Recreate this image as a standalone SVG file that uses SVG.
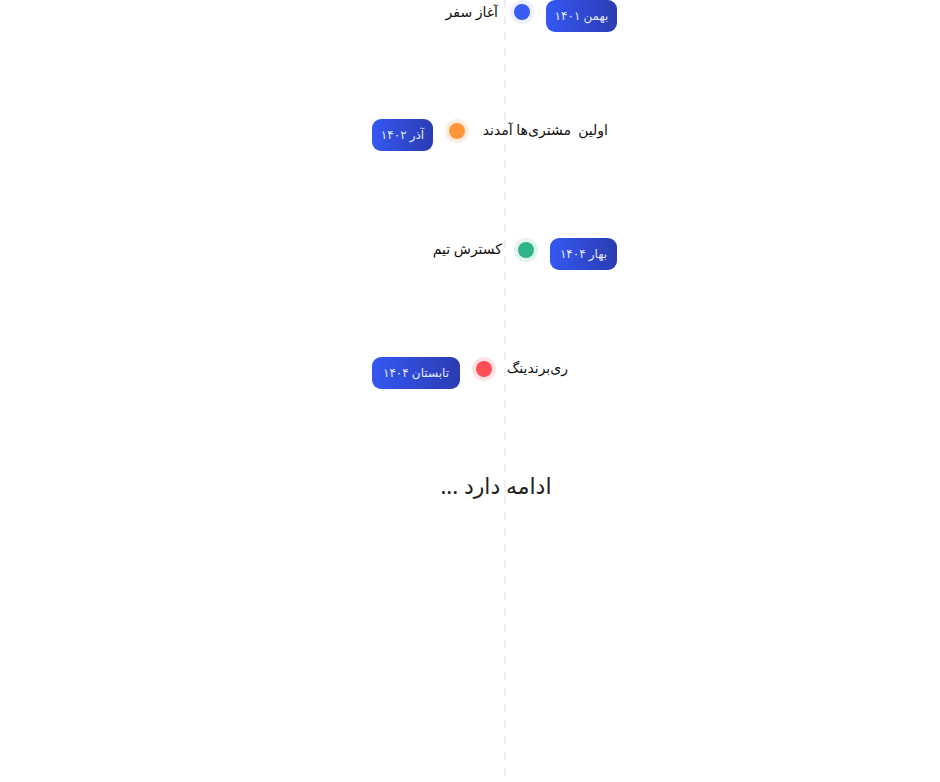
<svg xmlns="http://www.w3.org/2000/svg" width="940" height="782" viewBox="0 0 940 782">
<style>
.lbl{font-family:"Noto Sans","DejaVu Sans",sans-serif;font-size:14px;fill:#111;direction:rtl;white-space:pre}
.bt{font-family:"Noto Sans","DejaVu Sans",sans-serif;font-size:12px;fill:#e6eaff;direction:rtl;text-anchor:middle}
.more{font-family:"Noto Sans","DejaVu Sans",sans-serif;font-size:22px;fill:#222;direction:rtl;text-anchor:middle}
.badge{fill:url(#g)}
</style>
<defs>
<linearGradient id="g" x1="0" y1="0" x2="1" y2="0">
<stop offset="0" stop-color="#3558f2"/>
<stop offset="1" stop-color="#2a3cb2"/>
</linearGradient>
</defs>
<rect width="940" height="782" fill="#fff"/>
<g id="connectors">
<line x1="505" y1="0" x2="505" y2="782" stroke="#efefef" stroke-width="2" stroke-dasharray="8 8"/>
</g>
<g id="n1">
<rect class="badge" x="546" y="0" width="71" height="32" rx="9"/>
<text class="bt" x="581.5" y="20">بهمن ۱۴۰۱</text>
<circle cx="522" cy="12" r="12" fill="#eef0fe"/>
<circle cx="522" cy="12" r="8" fill="#3b5bf5"/>
<text class="lbl" x="498" y="17">آغاز سفر</text>
</g>
<g id="n2">
<rect class="badge" x="372" y="119" width="61" height="32" rx="9"/>
<text class="bt" x="402.5" y="139">آذر ۱۴۰۲</text>
<circle cx="457" cy="131" r="12" fill="#fdede0"/>
<circle cx="457" cy="131" r="8" fill="#ff9538"/>
<text class="lbl" x="608" y="135">اولین  مشتری‌ها آمدند</text>
</g>
<g id="n3">
<rect class="badge" x="550" y="238" width="67" height="32" rx="9"/>
<text class="bt" x="583.5" y="258">بهار ۱۴۰۴</text>
<circle cx="526" cy="250" r="12" fill="#e2f4ed"/>
<circle cx="526" cy="250" r="8" fill="#2fb38a"/>
<text class="lbl" x="502" y="254">کسترش تیم</text>
</g>
<g id="n4">
<rect class="badge" x="372" y="357" width="88" height="32" rx="9"/>
<text class="bt" x="416" y="377">تابستان ۱۴۰۴</text>
<circle cx="484" cy="369" r="12" fill="#ffe2e4"/>
<circle cx="484" cy="369" r="8" fill="#ff4d55"/>
<text class="lbl" x="568" y="373">ری‌برندینگ</text>
</g>
<g id="more">
<text class="more" x="496" y="494">ادامه دارد ...</text>
</g>
</svg>
